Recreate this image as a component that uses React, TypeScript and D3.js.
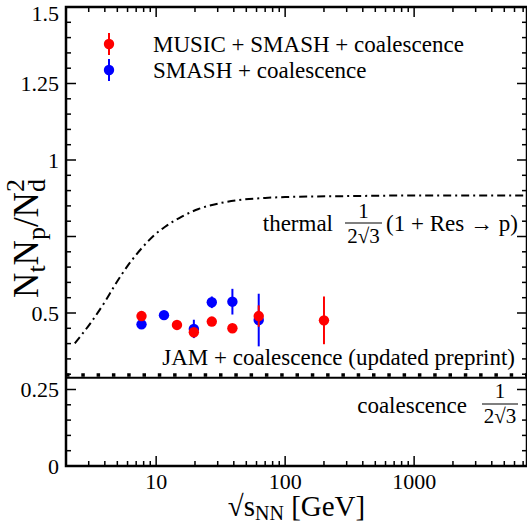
import React from "react";
import * as d3 from "d3";

const W = 527;
const H = 528;

// MUSIC + SMASH + coalescence (red)
const redEnergy = [7.7, 14.5, 19.6, 27, 39, 62.4, 200];
const redValue = [0.49, 0.461, 0.437, 0.472, 0.45, 0.49, 0.476];
const redError = [0.01, 0.01, 0.01, 0.01, 0.01, 0.035, 0.078];

// SMASH + coalescence (blue)
const blueEnergy = [7.7, 11.5, 19.6, 27, 39, 62.4];
const blueValue = [0.463, 0.493, 0.448, 0.535, 0.537, 0.477];
const blueError = [0.01, 0.01, 0.03, 0.019, 0.042, 0.086];

// thermal curve (dash-dot)
const thermalEnergy = [2.34, 3.16, 4.01, 4.8, 6.08, 7.74, 9.82, 11.75, 15.8, 21.3, 30.5, 43.6, 70, 100, 300, 1000, 7500];
const thermalValue = [0.401, 0.472, 0.537, 0.592, 0.657, 0.712, 0.757, 0.782, 0.815, 0.84, 0.858, 0.869, 0.876, 0.879, 0.882, 0.884, 0.884];

const jamValue = 0.297;
const coalValue = 1 / (2 * Math.sqrt(3));

const yTickLabels = [
  { v: 0, t: "0" },
  { v: 0.25, t: "0.25" },
  { v: 0.5, t: "0.5" },
  { v: 1, t: "1" },
  { v: 1.25, t: "1.25" },
  { v: 1.5, t: "1.5" },
];
const xTickLabels = [
  { v: 10, t: "10" },
  { v: 100, t: "100" },
  { v: 1000, t: "1000" },
];

const FONT = "'Liberation Serif', 'Times New Roman', serif";

export default function App() {
  const left = 66, right = 527, top = 7, bottom = 466;
  const x = d3.scaleLog().domain([2, 7500]).range([left, right]);
  const y = d3.scaleLinear().domain([0, 1.5]).range([bottom, top]);

  const xMinor: number[] = [];
  const xMajor: number[] = [];
  for (let e = 0; e <= 3; e++) {
    for (let m = 1; m <= 9; m++) {
      const v = m * Math.pow(10, e);
      if (v < 2 || v > 7500) continue;
      if (m === 1) xMajor.push(v);
      else xMinor.push(v);
    }
  }
  const yMinor: number[] = [];
  const yMajor: number[] = [];
  for (let i = 0; i <= 30; i++) {
    const v = i * 0.05;
    if (i % 5 === 0) yMajor.push(v);
    else yMinor.push(v);
  }

  const line = d3
    .line<number>()
    .x((_, i) => x(thermalEnergy[i]))
    .y((d) => y(d))
    .curve(d3.curveMonotoneX);

  const major = 10, minor = 5;

  const points = (en: number[], val: number[], err: number[], color: string) =>
    en.map((e, i) => (
      <g key={color + i}>
        <line x1={x(e)} x2={x(e)} y1={y(val[i] - err[i])} y2={y(val[i] + err[i])} stroke={color} strokeWidth={2} />
        <circle cx={x(e)} cy={y(val[i])} r={5.2} fill={color} />
      </g>
    ));

  return (
    <div style={{ position: "fixed", left: 0, top: 0 }}>
      <svg width={W} height={H} style={{ display: "block", fontFamily: FONT }}>
        <defs>
          <clipPath id="plot">
            <rect x={left} y={top} width={right - left} height={bottom - top} />
          </clipPath>
        </defs>
        <rect width={W} height={H} fill="white" />

        <g clipPath="url(#plot)">
          <line x1={left} x2={right} y1={y(jamValue)} y2={y(jamValue)} stroke="black" strokeWidth={3.5} strokeDasharray="3.5 11.8" />
          <line x1={left} x2={right} y1={y(coalValue)} y2={y(coalValue)} stroke="black" strokeWidth={2} />
          <path d={line(thermalValue) || ""} fill="none" stroke="black" strokeWidth={2} strokeDasharray="8 4 2 4" />
        </g>

        {points(blueEnergy, blueValue, blueError, "#0000ff")}
        {points(redEnergy, redValue, redError, "#ff0000")}

        <path d={`M${right},${top}H${left}V${bottom}H${right}V${top}`} fill="none" stroke="black" strokeWidth={2.5} />

        {xMajor.map((v) => (
          <g key={"xM" + v}>
            <line x1={x(v)} x2={x(v)} y1={bottom} y2={bottom - major} stroke="black" strokeWidth={1.5} />
            <line x1={x(v)} x2={x(v)} y1={top} y2={top + major} stroke="black" strokeWidth={1.5} />
          </g>
        ))}
        {xMinor.map((v) => (
          <g key={"xm" + v}>
            <line x1={x(v)} x2={x(v)} y1={bottom} y2={bottom - minor} stroke="black" strokeWidth={1.5} />
            <line x1={x(v)} x2={x(v)} y1={top} y2={top + minor} stroke="black" strokeWidth={1.5} />
          </g>
        ))}
        {yMajor.map((v) => (
          <g key={"yM" + v}>
            <line x1={left} x2={left + major} y1={y(v)} y2={y(v)} stroke="black" strokeWidth={1.5} />
            <line x1={right} x2={right - major} y1={y(v)} y2={y(v)} stroke="black" strokeWidth={1.5} />
          </g>
        ))}
        {yMinor.map((v) => (
          <g key={"ym" + v}>
            <line x1={left} x2={left + minor} y1={y(v)} y2={y(v)} stroke="black" strokeWidth={1.5} />
            <line x1={right} x2={right - minor} y1={y(v)} y2={y(v)} stroke="black" strokeWidth={1.5} />
          </g>
        ))}

        {yTickLabels.map((d) => (
          <text key={"yl" + d.v} x={left - 7} y={Math.max(y(d.v), 13)} dy="0.35em" textAnchor="end" fontSize={22}>
            {d.t}
          </text>
        ))}
        {xTickLabels.map((d) => (
          <text key={"xl" + d.v} x={x(d.v)} y={489} textAnchor="middle" fontSize={22}>
            {d.t}
          </text>
        ))}

        <text x={(left + right) / 2} y={516} textAnchor="middle" fontSize={29}>
          √s<tspan fontSize={20} dy={4}>NN</tspan>
          <tspan dy={-4}> [GeV]</tspan>
        </text>
        <text transform={`translate(38,${(top + bottom) / 2 + 2}) rotate(-90)`} textAnchor="middle" fontSize={35}>
          N<tspan fontSize={26} dy={7}>t</tspan>
          <tspan dy={-7}>N</tspan>
          <tspan fontSize={26} dy={7}>p</tspan>
          <tspan dy={-7}>/N</tspan>
          <tspan fontSize={26} dy={7}>d</tspan>
          <tspan fontSize={26} dx={-13} dy={-21}>2</tspan>
        </text>

        <line x1={109} x2={109} y1={33} y2={55} stroke="#ff0000" strokeWidth={2} />
        <circle cx={109} cy={44} r={5.2} fill="#ff0000" />
        <line x1={109} x2={109} y1={59} y2={81} stroke="#0000ff" strokeWidth={2} />
        <circle cx={109} cy={70} r={5.2} fill="#0000ff" />
        <text x={153} y={52} fontSize={23}>MUSIC + SMASH + coalescence</text>
        <text x={153} y={78} fontSize={23}>SMASH + coalescence</text>

        <text x={333} y={231} textAnchor="end" fontSize={23}>thermal</text>
        <text x={363.5} y={218} textAnchor="middle" fontSize={21}>1</text>
        <line x1={345} x2={382} y1={223} y2={223} stroke="black" strokeWidth={1.2} />
        <text x={363.5} y={243} textAnchor="middle" fontSize={21}>2√3</text>
        <text x={386} y={231} fontSize={23}>(1 + Res → p)</text>

        <text x={515} y={365} textAnchor="end" fontSize={23}>JAM + coalescence (updated preprint)</text>

        <text x={467} y={413} textAnchor="end" fontSize={23}>coalescence</text>
        <text x={500} y={398} textAnchor="middle" fontSize={21}>1</text>
        <line x1={482} x2={518} y1={404} y2={404} stroke="black" strokeWidth={1.2} />
        <text x={500} y={423} textAnchor="middle" fontSize={21}>2√3</text>
      </svg>
    </div>
  );
}
